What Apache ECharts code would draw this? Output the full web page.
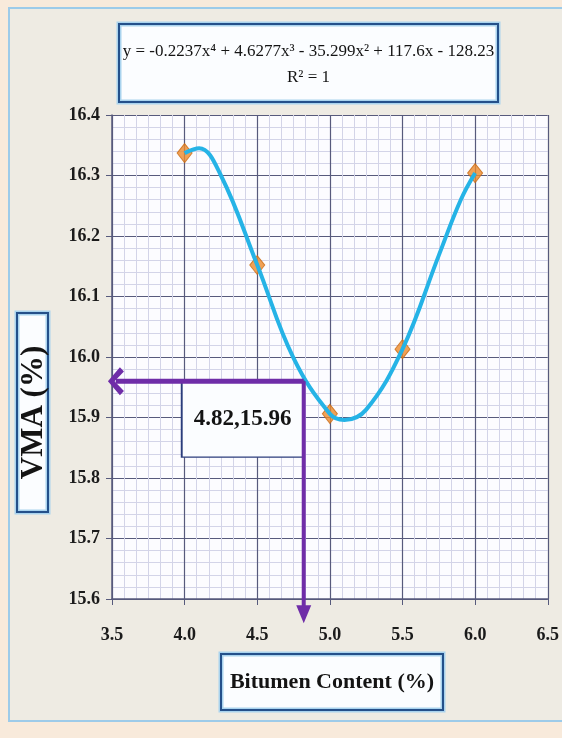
<!DOCTYPE html>
<html>
<head>
<meta charset="utf-8">
<script src="https://cdn.jsdelivr.net/npm/echarts@6/dist/echarts.min.js"></script>
<style>
  html, body { margin: 0; padding: 0; background: #f8eadb; }
  .panel {
    position: absolute; left: 8px; top: 7px; right: 0; height: 711px;
    background: #eeebe3;
    border-left: 2px solid #9dcbe9; border-top: 2px solid #9dcbe9; border-bottom: 2px solid #9dcbe9;
  }
  #chart { position: absolute; left: 0; top: 0; width: 562px; height: 738px; }
</style>
</head>
<body>
<div class="panel"></div>
<div id="chart"></div>
<script>
// measured points (bitumen content %, VMA %)
const bitumen = [4.0, 4.5, 5.0, 5.5, 6.0]
const vma = [16.337, 16.152, 15.906, 16.013, 16.304]

// polynomial trendline
const trendX = [4.0, 4.1, 4.25, 4.5, 4.75, 5.0, 5.1, 5.25, 5.5, 5.75, 5.9, 6.0]
const trendY = [16.337, 16.345, 16.30, 16.152, 15.998, 15.906, 15.896, 15.913, 16.013, 16.168, 16.259, 16.304]

const optimum = [4.82, 15.96]
const arrowLeftX = 3.527
const arrowDownY = 15.575

const equation = 'y = -0.2237x⁴ + 4.6277x³ - 35.299x² + 117.6x - 128.23'
const rSquared = 'R² = 1'
const xTitle = 'Bitumen Content (%)'
const yTitle = 'VMA (%)'

const serif = "'Liberation Serif', 'Times New Roman', serif"
const majorColor = '#575a7c'
const minorColor = '#d3d4e8'
const purple = '#6f2da8'

// open chevron, tip pointing up before rotation
const chevron = 'path://M10,0 L20,9 L17,12 L10,5 L3,12 L0,9 Z'

function labelBox(cx, cy, w, h, rot, lines) {
  return {
    type: 'group',
    x: cx,
    y: cy,
    rotation: rot,
    children: [
      {
        type: 'rect',
        shape: { x: -w / 2, y: -h / 2, width: w, height: h },
        style: { fill: '#fbfdff', stroke: '#a9d3ee', lineWidth: 5 }
      },
      {
        type: 'rect',
        shape: { x: -w / 2, y: -h / 2, width: w, height: h },
        style: { fill: 'none', stroke: '#24508a', lineWidth: 2 }
      }
    ].concat(lines.map(l => ({
      type: 'text',
      x: 0,
      y: l.dy,
      style: {
        text: l.text,
        align: 'center',
        verticalAlign: 'middle',
        fontFamily: serif,
        fontSize: l.size,
        fontWeight: l.weight,
        fill: '#141414'
      }
    })))
  }
}

const chart = echarts.init(document.getElementById('chart'))

const axisText = {
  fontFamily: serif,
  fontWeight: 'bold',
  fontSize: 18,
  color: '#1b1b1b'
}

chart.setOption({
  animation: false,
  grid: {
    left: 112,
    top: 115,
    width: 440,
    height: 484,
    show: true,
    backgroundColor: '#fcfcff',
    borderWidth: 0
  },
  graphic: [
    labelBox(308.5, 63, 379, 78, 0, [
      { text: equation, dy: -11, size: 17, weight: 'normal' },
      { text: rSquared, dy: 15, size: 17, weight: 'normal' }
    ]),
    labelBox(32.5, 412.5, 199, 31, Math.PI / 2, [
      { text: yTitle, dy: 1, size: 31, weight: 'bold' }
    ]),
    labelBox(332, 682, 222, 56, 0, [
      { text: xTitle, dy: 0, size: 22, weight: 'bold' }
    ])
  ],
  xAxis: {
    type: 'value',
    min: 3.5,
    max: 6.5,
    interval: 0.5,
    axisLabel: Object.assign({ margin: 27, formatter: v => v.toFixed(1) }, axisText),
    axisLine: { show: true, lineStyle: { color: majorColor, width: 1.5 } },
    axisTick: { show: true, length: 6, lineStyle: { color: majorColor } },
    splitLine: { show: true, lineStyle: { color: majorColor, width: 1.2 } },
    minorTick: { show: false, splitNumber: 6 },
    minorSplitLine: { show: true, lineStyle: { color: minorColor, width: 1 } }
  },
  yAxis: {
    type: 'value',
    min: 15.6,
    max: 16.4,
    interval: 0.1,
    axisLabel: Object.assign({ margin: 12, formatter: v => v.toFixed(1) }, axisText),
    axisLine: { show: true, lineStyle: { color: majorColor, width: 1.5 } },
    axisTick: { show: true, length: 6, lineStyle: { color: majorColor } },
    splitLine: { show: true, lineStyle: { color: majorColor, width: 1.2 } },
    minorTick: { show: false, splitNumber: 5 },
    minorSplitLine: { show: true, lineStyle: { color: minorColor, width: 1 } }
  },
  series: [
    {
      name: 'VMA',
      type: 'scatter',
      data: bitumen.map((x, i) => [x, vma[i]]),
      symbol: 'diamond',
      symbolSize: [15, 19],
      itemStyle: { color: '#ec8a2c', borderColor: '#c96a12', borderWidth: 1 },
      silent: true,
      z: 3
    },
    {
      name: 'Poly',
      type: 'line',
      data: trendX.map((x, i) => [x, trendY[i]]),
      smooth: 0.4,
      symbol: 'none',
      lineStyle: { color: '#25b3e6', width: 4 },
      silent: true,
      z: 4
    },
    {
      name: 'Optimum',
      type: 'line',
      data: [],
      silent: true,
      z: 5,
      markPoint: {
        silent: true,
        symbol: 'rect',
        symbolSize: [122, 76],
        symbolOffset: [-61, 38],
        itemStyle: { color: '#fbfdff', borderColor: '#2b3d7c', borderWidth: 1.5 },
        label: {
          show: true,
          position: 'inside',
          formatter: () => optimum.join(','),
          fontFamily: serif,
          fontWeight: 'bold',
          fontSize: 23,
          color: '#141414'
        },
        data: [{ coord: optimum }]
      }
    },
    {
      name: 'Guide X',
      type: 'line',
      silent: true,
      clip: false,
      z: 6,
      showSymbol: true,
      lineStyle: { color: purple, width: 5 },
      itemStyle: { color: purple },
      data: [
        { value: optimum, symbol: 'none' },
        { value: [arrowLeftX, optimum[1]], symbol: chevron, symbolSize: [28, 16], symbolRotate: 90 }
      ]
    },
    {
      name: 'Guide Y',
      type: 'line',
      silent: true,
      clip: false,
      z: 6,
      showSymbol: true,
      lineStyle: { color: purple, width: 4 },
      itemStyle: { color: purple },
      data: [
        { value: optimum, symbol: 'none' },
        { value: [optimum[0], arrowDownY], symbol: 'triangle', symbolSize: [15, 18], symbolRotate: 180 }
      ]
    }
  ]
})
</script>
</body>
</html>
